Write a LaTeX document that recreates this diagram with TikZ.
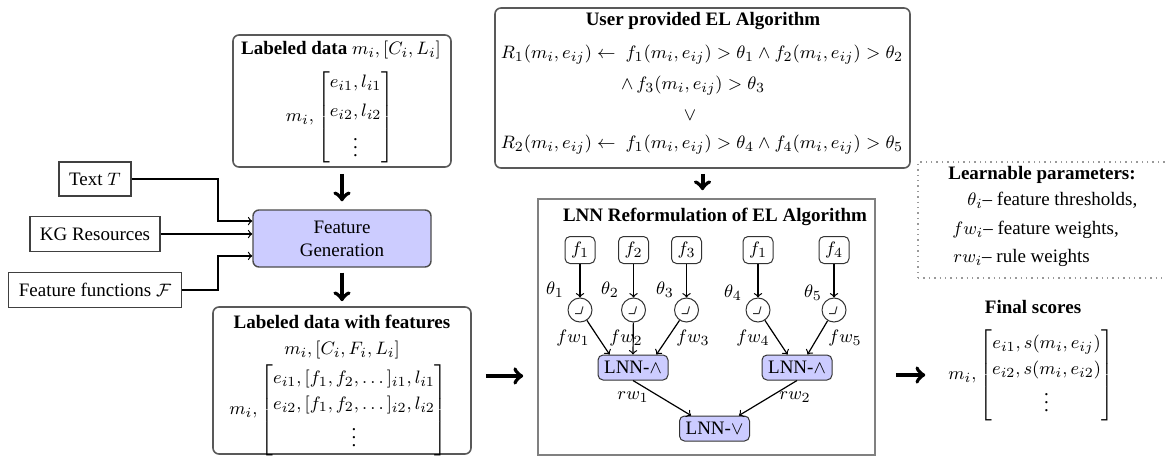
\documentclass[tikz,border=0pt]{standalone}
\usepackage{amsmath,amssymb}
\usepackage[no-math]{fontspec}
\setmainfont{Liberation Serif}
\usetikzlibrary{positioning}
\definecolor{lnnblue}{RGB}{204,204,255}
\renewcommand{\arraystretch}{1.12}
\tikzset{
  round box/.style={
    rounded corners=3pt,
    draw=black!65,
    line width=0.8pt,
  },
  input box/.style={
    draw=black!75,
    line width=0.6pt,
    inner sep=2pt,
  },
  gen box/.style={
    rounded corners=3pt,
    draw=black!70,
    line width=0.7pt,
    fill=lnnblue,
    align=center,
  },
  lnn frame/.style={
    draw=black!50,
    line width=0.8pt,
  },
  feat node/.style={
    rounded corners=2.5pt,
    draw=black!80,
    line width=0.5pt,
    minimum width=15pt,
    minimum height=13.5pt,
    inner sep=1pt,
  },
  gate node/.style={
    circle,
    draw=black!80,
    line width=0.5pt,
    minimum size=12pt,
    inner sep=0pt,
    path picture={
      \draw[line width=0.5pt] ([xshift=-2.5pt,yshift=-1.8pt]path picture bounding box.center)
        -- ++(3pt,0) -- ++(1pt,3.6pt);
    },
  },
  op node/.style={
    rounded corners=2.5pt,
    draw=black!80,
    line width=0.5pt,
    fill=lnnblue,
    minimum width=35pt,
    minimum height=12.5pt,
    inner sep=1pt,
  },
  big arrow/.style={
    ->,
    line width=2pt,
  },
  wire/.style={
    ->,
    line width=0.6pt,
  },
  weight/.style={
    inner sep=0pt,
  },
}

\begin{document}
\begin{tikzpicture}[x=0.5pt, y=-0.5pt, font=\fontsize{9.5}{11.4}\selectfont]
  \useasboundingbox (0,0) rectangle (1165,455);

  \node[round box, minimum width=109pt, minimum height=66pt] (ld) at (342,101) {};
  \node (ldtitle) at (341,50) {\textbf{Labeled data} $m_i,[C_i,L_i]$};
  \node (ldmat) at (340,117) {$m_i,\begin{bmatrix} e_{i1},l_{i1}\\[1.5pt] e_{i2},l_{i2}\\[1.5pt] \vdots \end{bmatrix}$};

  \node[gen box, minimum width=89pt, minimum height=28.5pt] (fg) at (342,238.5) {Feature\\Generation};

  \node[input box, minimum width=36pt, minimum height=17pt] (txt) at (95,179) {Text $T$};
  \node[input box, minimum width=65pt, minimum height=17.5pt] (kg) at (95,234) {KG Resources};
  \node[input box, minimum width=86.5pt, minimum height=17.3pt] (ff) at (95,290) {Feature functions $\mathcal{F}$};
  \coordinate (bend) at (218,0);

  \draw[wire] (txt) -| (bend |- fg.169) -- (fg.169);
  \draw[wire] (kg) -- (kg -| fg.west);
  \draw[wire] (ff) -| (bend |- fg.191) -- (fg.191);

  \node[round box, minimum width=129pt, minimum height=73.5pt] (ldf) at (342,380.5) {};
  \node (ldftitle) at (342,322) {\textbf{Labeled data with features}};
  \node (ldfsub) at (342,350) {$m_i,[C_i,F_i,L_i]$};
  \node (ldfmat) at (338.5,410) {$m_i,\begin{bmatrix} e_{i1},[f_1,f_2,\dots]_{i1},l_{i1}\\ e_{i2},[f_1,f_2,\dots]_{i2},l_{i2}\\ \vdots \end{bmatrix}$};

  \draw[big arrow, shorten <=3pt, shorten >=4pt] (ld) -- (fg);
  \draw[big arrow, shorten <=2.5pt, shorten >=2.5pt] (fg) -- (ldf);

  \node[round box, minimum width=207.5pt, minimum height=80pt] (el) at (702.5,88) {};
  \node (eltitle) at (703,21) {\textbf{User provided EL Algorithm}};
  \node (rule1a) at (702,55) {$R_1(m_i,e_{ij}) \leftarrow\ f_1(m_i,e_{ij}) > \theta_1 \wedge f_2(m_i,e_{ij}) > \theta_2$};
  \node (rule1b) at (693,86) {$\wedge\, f_3(m_i,e_{ij}) > \theta_3$};
  \node (ruleor) at (690,115) {$\vee$};
  \node (rule2) at (702,145) {$R_2(m_i,e_{ij}) \leftarrow\ f_1(m_i,e_{ij}) > \theta_4 \wedge f_4(m_i,e_{ij}) > \theta_5$};

  \node[lnn frame, minimum width=168.5pt, minimum height=128pt] (lnn) at (706.5,327) {};
  \node (lnntitle) at (715,217) {\textbf{LNN Reformulation of EL Algorithm}};

  \draw[big arrow, shorten <=2.5pt, shorten >=4pt] (el.south) -- (el.south |- lnn.north);
  \draw[big arrow, shorten <=7pt, shorten >=7pt] (ldf.2) -- (ldf.2 -| lnn.west);

  \node[feat node] (f1) at (580,250) {$f_1$};
  \node[feat node] (f2) at (633.5,250) {$f_2$};
  \node[feat node] (f3) at (686.5,250) {$f_3$};
  \node[feat node] (f1b) at (758,250) {$f_1$};
  \node[feat node] (f4) at (834,250) {$f_4$};

  \node[gate node] (g1) at (580,310) {};
  \node[gate node] (g2) at (633.5,310) {};
  \node[gate node] (g3) at (686.5,310) {};
  \node[gate node] (g4) at (758,310) {};
  \node[gate node] (g5) at (834,310) {};

  \node[weight] (t1) at (555,290) {$\theta_1$};
  \node[weight] (t2) at (610,290) {$\theta_2$};
  \node[weight] (t3) at (665,290) {$\theta_3$};
  \node[weight] (t4) at (733,293) {$\theta_4$};
  \node[weight] (t5) at (813,293) {$\theta_5$};

  \node[op node] (and1) at (633,367.5) {LNN-$\wedge$};
  \node[op node] (and2) at (797,367.5) {LNN-$\wedge$};
  \node[op node] (or) at (714.5,428.5) {LNN-$\vee$};

  \draw[wire] (f1) -- (g1);
  \draw[wire] (f2) -- (g2);
  \draw[wire] (f3) -- (g3);
  \draw[wire] (f1b) -- (g4);
  \draw[wire] (f4) -- (g5);

  \draw[wire] (g1) -- (and1.151);
  \draw[wire] (g2) -- (and1.north);
  \draw[wire] (g3) -- (and1.29);
  \draw[wire] (g4) -- (and2.126);
  \draw[wire] (g5) -- (and2.51);
  \draw[wire] (and1.south) -- (or.151);
  \draw[wire] (and2.south) -- (or.28);

  \node[weight] (fw1) at (573,338) {$fw_1$};
  \node[weight] (fw2) at (626,338) {$fw_2$};
  \node[weight] (fw3) at (693,338) {$fw_3$};
  \node[weight] (fw4) at (753,338) {$fw_4$};
  \node[weight] (fw5) at (845,338) {$fw_5$};
  \node[weight] (rw1) at (633,397) {$rw_1$};
  \node[weight] (rw2) at (795,397) {$rw_2$};

  \node[draw=black!40, dotted, line width=0.7pt, minimum width=128.5pt, minimum height=58pt] (params) at (1046.5,220) {};
  \node (paramtitle) at (1042,175) {\textbf{Learnable parameters:}};
  \node[anchor=west, inner sep=0pt] (p1) at (967,200) {$\theta_i$-- feature thresholds,};
  \node[anchor=west, inner sep=0pt] (p2) at (952,230) {$fw_i$-- feature weights,};
  \node[anchor=west, inner sep=0pt] (p3) at (953,258) {$rw_i$-- rule weights};

  \node (fstitle) at (1033,307) {\textbf{Final scores}};
  \node (scores) at (1031,375) {$m_i,\begin{bmatrix} e_{i1},s(m_i,e_{ij})\\ e_{i2},s(m_i,e_{i2})\\ \vdots \end{bmatrix}$};
  \draw[big arrow, shorten <=10pt, shorten >=8pt] (lnn.east |- scores.west) -- (scores.west);
\end{tikzpicture}
\end{document}
